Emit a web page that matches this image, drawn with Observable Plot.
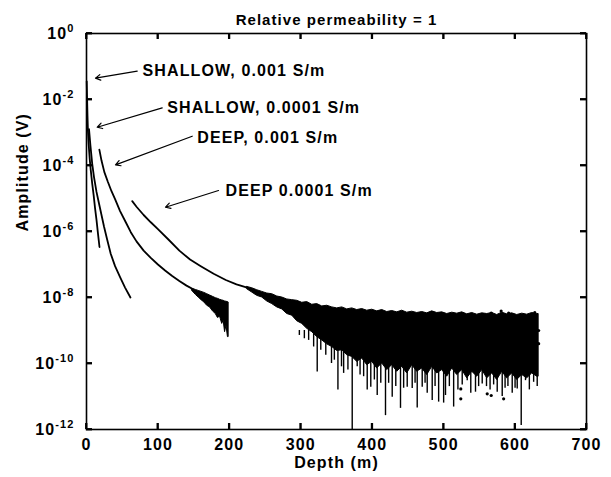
<!DOCTYPE html>
<html><head><meta charset="utf-8">
<script src="https://cdn.jsdelivr.net/npm/d3@7"></script>
<script src="https://cdn.jsdelivr.net/npm/@observablehq/plot@0.6"></script>
<style>
body{margin:0;background:#fff;}
#chart svg text{letter-spacing:0.07em;}
</style></head><body><div id="chart"></div>
<script>
// ---- data (amplitudes stored as log10 exponents) ----
const titleText = "Relative permeability = 1";
const xLabel = "Depth (m)";
const yLabel = "Amplitude (V)";
const xTicks = [0, 100, 200, 300, 400, 500, 600, 700];
const yTickExps = [0, -2, -4, -6, -8, -10, -12];

// SHALLOW, 0.001 S/m
const sh1Depth = [0.3, 0.8, 1.4, 2, 3, 4.5, 6, 8, 10, 12, 14, 16, 18.2];
const sh1Exp = [-1.45, -1.95, -2.5, -2.95, -3.35, -3.8, -4.15, -4.55, -4.9, -5.3, -5.65, -6.05, -6.47];
// SHALLOW, 0.0001 S/m
const sh2Depth = [3.5, 5.5, 8, 10.5, 14, 17.5, 21, 24.5, 29, 34, 40, 47, 54, 61.5];
const sh2Exp = [-2.9, -3.4, -3.95, -4.35, -4.8, -5.15, -5.5, -5.85, -6.25, -6.68, -7.05, -7.38, -7.7, -8.0];
// DEEP, 0.001 S/m (smooth part)
const dp1Depth = [18, 21, 25, 30, 35, 40, 47, 55, 62, 70, 80, 90, 100, 110, 120, 130, 140, 150];
const dp1Exp = [-3.52, -3.85, -4.2, -4.5, -4.78, -5.02, -5.38, -5.72, -6.02, -6.3, -6.58, -6.8, -7.0, -7.18, -7.35, -7.5, -7.64, -7.76];
// DEEP, 0.001 S/m (noisy tail envelope)
const dp1NoiseDepth = [148, 153, 157, 161, 165, 169, 173, 177, 181, 184, 187, 190, 192, 194, 196, 198, 199];
const dp1NoiseTop = [-7.74, -7.77, -7.8, -7.83, -7.86, -7.9, -7.94, -7.98, -8.02, -8.04, -8.07, -8.09, -8.1, -8.12, -8.13, -8.14, -8.15];
const dp1NoiseBottom = [-7.8, -7.92, -8.0, -8.08, -8.15, -8.25, -8.3, -8.42, -8.5, -8.62, -8.58, -8.8, -8.7, -9.05, -8.85, -9.2, -9.2];
// DEEP 0.0001 S/m (smooth part)
const dp2Depth = [64, 70, 80, 90, 100, 115, 130, 145, 160, 178, 195, 210, 225];
const dp2Exp = [-5.08, -5.25, -5.5, -5.72, -5.93, -6.25, -6.58, -6.85, -7.05, -7.28, -7.47, -7.6, -7.7];
// DEEP 0.0001 S/m (noisy tail envelope)
const dp2NoiseDepth = [225,232,239,246,253,260,267,274,281,288,295,302,309,316,323,330,337,344,351,358,365,372,379,386,393,400,407,414,421,428,435,442,449,456,463,470,477,484,491,498,505,512,519,526,533,540,547,554,561,568,575,582,589,596,603,610,617,624,631,633];
const dp2NoiseTop = [-7.68,-7.72,-7.78,-7.83,-7.88,-7.9,-7.97,-8.0,-8.06,-8.08,-8.1,-8.16,-8.14,-8.22,-8.2,-8.27,-8.25,-8.3,-8.33,-8.3,-8.36,-8.33,-8.38,-8.35,-8.4,-8.37,-8.42,-8.38,-8.44,-8.41,-8.45,-8.4,-8.46,-8.43,-8.47,-8.44,-8.48,-8.42,-8.47,-8.45,-8.5,-8.46,-8.49,-8.45,-8.51,-8.47,-8.52,-8.48,-8.5,-8.47,-8.53,-8.46,-8.51,-8.48,-8.53,-8.49,-8.52,-8.47,-8.5,-8.5];
const dp2NoiseBottom = [-7.75,-7.85,-7.95,-8.0,-8.12,-8.2,-8.3,-8.36,-8.5,-8.55,-8.72,-8.8,-8.95,-9.05,-9.2,-9.3,-9.42,-9.5,-9.62,-9.6,-9.75,-9.8,-9.95,-9.85,-10.05,-9.95,-10.15,-10.0,-10.2,-10.05,-10.25,-10.1,-10.3,-10.05,-10.25,-10.15,-10.35,-10.1,-10.3,-10.2,-10.4,-10.15,-10.35,-10.2,-10.45,-10.25,-10.4,-10.2,-10.45,-10.3,-10.5,-10.25,-10.45,-10.3,-10.5,-10.35,-10.45,-10.3,-10.4,-10.4];
// downward spikes of the DEEP 0.0001 noise
const spikeDepth = [290, 298, 305, 311, 318, 323, 328, 335, 343, 347, 352, 357, 360, 366, 372, 379, 383, 388, 393, 398, 403, 407, 412, 418.6, 423, 428, 433, 439.6, 444, 449, 456, 460, 463, 470, 474, 477, 484, 488, 493, 500, 502.6, 508, 514, 520, 526, 533, 538, 544.6, 549, 554, 560, 565, 570, 575, 582, 586, 590, 596, 600, 603, 608.6, 614.6, 620, 626, 631];
const spikeExp = [-9.0, -9.15, -9.25, -9.3, -9.5, -10.26, -9.6, -9.75, -10.0, -9.9, -10.8, -10.1, -10.3, -10.2, -12.0, -10.1, -10.35, -10.4, -10.8, -10.72, -10.5, -10.97, -10.6, -11.58, -10.6, -11.02, -10.7, -11.36, -10.75, -10.72, -10.76, -10.6, -11.35, -10.72, -10.6, -10.9, -11.12, -10.7, -11.17, -11.2, -10.97, -10.7, -11.32, -10.8, -10.65, -10.52, -10.9, -10.87, -10.7, -10.62, -10.7, -10.8, -10.65, -10.87, -11.0, -10.75, -10.7, -10.9, -10.75, -10.77, -11.88, -10.52, -10.8, -10.57, -10.7];
const spikeTopExp = -9.0;
// isolated points
const dotDepth = [524, 524, 561, 566.6, 584, 580.5, 591, 627.6, 566.6, 633, 633];
const dotExp = [-10.77, -11.07, -10.92, -10.97, -11.07, -8.41, -8.47, -8.46, -8.47, -9.4, -9.0];
// annotations
const annText = ["SHALLOW, 0.001 S/m", "SHALLOW, 0.0001 S/m", "DEEP, 0.001 S/m", "DEEP 0.0001 S/m"];
const annDepth = [78.4, 113, 155, 194.6];
const annExp = [-1.14, -2.26, -3.15, -4.77];
const arrowFromDepth = [71, 106, 148, 184.8];
const arrowFromExp = [-1.142, -2.252, -3.112, -4.758];
const arrowToDepth = [12.6, 15, 40.6, 110.6];
const arrowToExp = [-1.355, -2.84, -3.98, -5.264];

// ---- build tables ----
const P = e => Math.pow(10, e);
const series = (ds, es) => ds.map((d, i) => ({x: d, y: P(es[i])}));
const band = (ds, hi, lo) => ds.map((d, i) => ({x: d, hi: P(hi[i]), lo: P(lo[i])}));
const sh1 = series(sh1Depth, sh1Exp);
const sh2 = series(sh2Depth, sh2Exp);
const dp1 = series(dp1Depth, dp1Exp);
const dp2 = series(dp2Depth, dp2Exp);
const dp1Band = band(dp1NoiseDepth, dp1NoiseTop, dp1NoiseBottom);
const dp2Band = band(dp2NoiseDepth, dp2NoiseTop, dp2NoiseBottom);
const spikes = spikeDepth.map((d, i) => ({x: d, lo: P(spikeExp[i]), hi: P(spikeTopExp)}));
const dots = series(dotDepth, dotExp);
const anns = annText.map((t, i) => ({t, x: annDepth[i], y: P(annExp[i])}));
const arrows = arrowFromDepth.map((d, i) => ({x1: d, y1: P(arrowFromExp[i]), x2: arrowToDepth[i], y2: P(arrowToExp[i])}));
const yTicks = yTickExps.map(P);

// layout
const W = 611, H = 477, ML = 86, MR = 25, MT = 33, MB = 48;
const xDomain = [0, 700], yDomainExp = [-12, 0];
const FW = W - ML - MR, FH = H - MT - MB, TL = 6; // tick length px (inward)
const tickDX = (xDomain[1] - xDomain[0]) * TL / FW;
const tickDE = (yDomainExp[1] - yDomainExp[0]) * TL / FH;
const tickLine = {stroke: "black", strokeWidth: 1.8};
const lineOpts = {x: "x", y: "y", stroke: "black", strokeWidth: 1.8};

const chart = Plot.plot({
  width: W, height: H,
  marginLeft: ML, marginRight: MR, marginTop: MT, marginBottom: MB,
  style: {fontFamily: "'Liberation Sans', Arial, sans-serif", fontWeight: "bold", fontSize: "16px"},
  x: {domain: xDomain},
  y: {type: "log", domain: yDomainExp.map(P)},
  marks: [
    Plot.areaY(dp1Band, {x: "x", y1: "lo", y2: "hi", fill: "black", stroke: "black", strokeWidth: 1}),
    Plot.areaY(dp2Band, {x: "x", y1: "lo", y2: "hi", fill: "black", stroke: "black", strokeWidth: 1}),
    Plot.ruleX(spikes, {x: "x", y1: "lo", y2: "hi", stroke: "black", strokeWidth: 1.4}),
    Plot.dot(dots, {x: "x", y: "y", r: 1.6, fill: "black"}),
    Plot.line(sh1, lineOpts),
    Plot.line(sh2, lineOpts),
    Plot.line(dp1, lineOpts),
    Plot.line(dp2, lineOpts),
    Plot.arrow(arrows, {x1: "x1", y1: "y1", x2: "x2", y2: "y2", stroke: "black", strokeWidth: 1.2, headLength: 7}),
    Plot.text(anns, {x: "x", y: "y", text: "t", textAnchor: "start", fontSize: 16, fontWeight: "bold"}),
    Plot.ruleX(xTicks, {x: d => d, y1: P(yDomainExp[0]), y2: P(yDomainExp[0] + tickDE), ...tickLine}),
    Plot.ruleX(xTicks, {x: d => d, y1: P(yDomainExp[1]), y2: P(yDomainExp[1] - tickDE), ...tickLine}),
    Plot.ruleY(yTicks, {y: d => d, x1: xDomain[0], x2: xDomain[0] + tickDX, ...tickLine}),
    Plot.ruleY(yTicks, {y: d => d, x1: xDomain[1], x2: xDomain[1] - tickDX, ...tickLine}),
    Plot.frame({stroke: "black", strokeWidth: 1.6}),
    Plot.axisX({ticks: xTicks, tickSize: 0, tickPadding: 9, label: null, fontSize: 16}),
    Plot.axisY({ticks: yTicks, tickSize: 0, tickPadding: 12, label: null, fontSize: 16,
      tickFormat: d => "10^" + Math.round(Math.log10(d))}),
    Plot.text([titleText], {text: d => d, frameAnchor: "top", dy: -19, fontSize: 15, fontWeight: "bold"}),
    Plot.text([xLabel], {text: d => d, frameAnchor: "bottom", dy: 38, fontSize: 16, fontWeight: "bold"}),
    Plot.text([yLabel], {text: d => d, frameAnchor: "left", dx: -64, rotate: -90, fontSize: 16, fontWeight: "bold"})
  ]
});
document.getElementById("chart").appendChild(chart);

// superscript exponents in the y tick labels
d3.select(chart).selectAll('g[aria-label="y-axis tick label"] text').each(function () {
  const s = this.textContent;
  if (!s || s.indexOf("^") < 0) return;
  const [b, e] = s.split("^");
  this.textContent = b;
  d3.select(this).append("tspan").attr("dy", "-0.6em").attr("font-size", "11px").text(e);
});

// inward ticks again, positioned through the plot's own scales
try {
  const sx = chart.scale("x"), sy = chart.scale("y");
  const fx = sx.apply ? v => sx.apply(v) : d3.scaleLinear(sx.domain, sx.range);
  const fy = sy.apply ? v => sy.apply(v) : d3.scaleLog(sy.domain, sy.range);
  const g = d3.select(chart).append("g").attr("stroke", "black").attr("stroke-width", 1.8);
  const [yb, yt] = [fy(P(yDomainExp[0])), fy(P(yDomainExp[1]))];
  const [xl, xr] = [fx(xDomain[0]), fx(xDomain[1])];
  xTicks.forEach(v => {
    const x = fx(v);
    g.append("line").attr("x1", x).attr("x2", x).attr("y1", yb).attr("y2", yb - TL);
    g.append("line").attr("x1", x).attr("x2", x).attr("y1", yt).attr("y2", yt + TL);
  });
  yTicks.forEach(v => {
    const y = fy(v);
    g.append("line").attr("y1", y).attr("y2", y).attr("x1", xl).attr("x2", xl + TL);
    g.append("line").attr("y1", y).attr("y2", y).attr("x1", xr).attr("x2", xr - TL);
  });
} catch (e) {}
</script></body></html>
